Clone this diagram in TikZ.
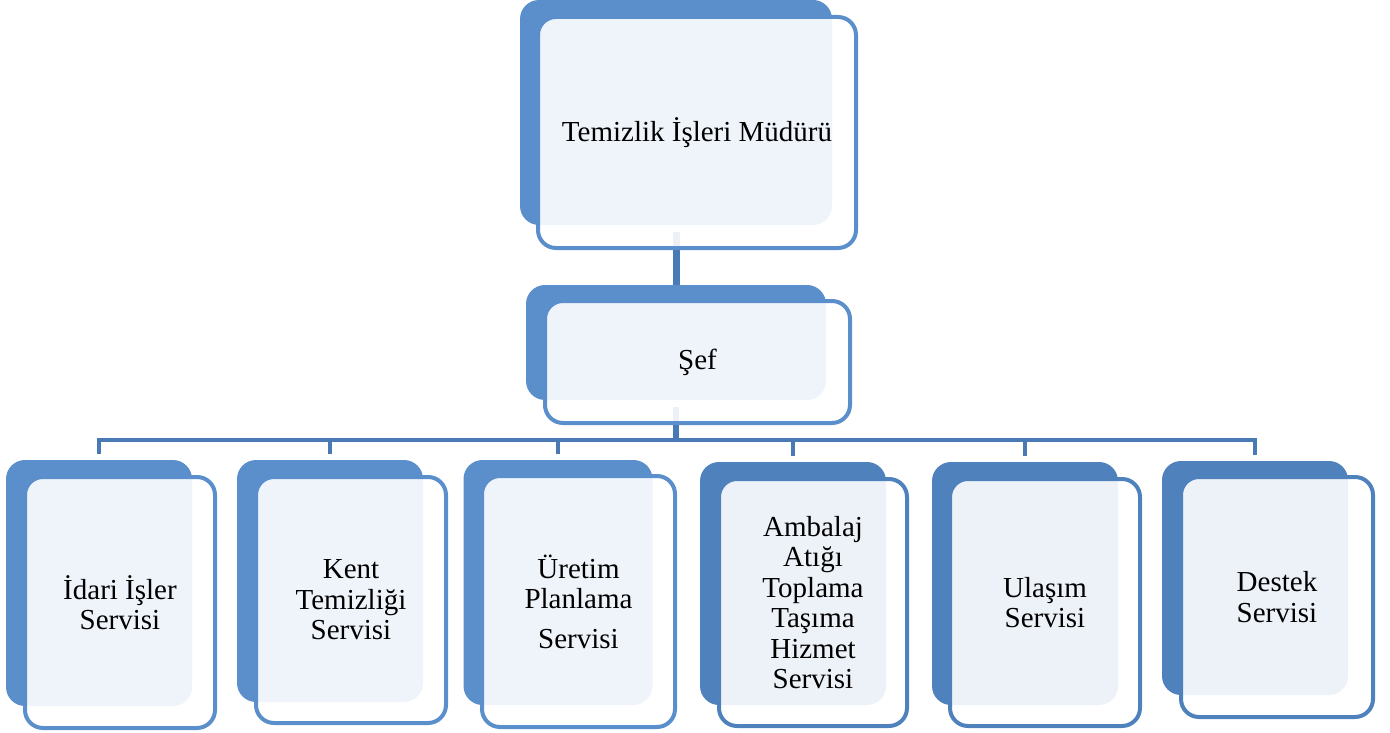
\documentclass[tikz,border=0pt]{standalone}
\usepackage{fontspec}
\setmainfont{Liberation Serif}
\usetikzlibrary{calc}

\definecolor{boxblue}{HTML}{5B8FCC}
\definecolor{boxdark}{HTML}{4F81BD}
\definecolor{linkblue}{HTML}{4A7AB6}

\begin{document}
\begin{tikzpicture}[x=1pt,y=-1pt,
  backbox/.style={fill=#1,rounded corners=19pt,inner sep=0pt,outer sep=0pt},
  frontbox/.style={draw=#1,line width=4pt,fill=white,fill opacity=0.9,text opacity=1,
    rounded corners=18pt,inner sep=0pt,align=center,
    font=\fontsize{29}{30.5}\selectfont},
  link/.style={draw=linkblue,line width=4.5pt}]

\useasboundingbox (0,0) rectangle (1390,733);

% back panels
\node[backbox=boxblue,minimum width=312,minimum height=225] (mud-b) at (676,112.5) {};
\node[backbox=boxblue,minimum width=300,minimum height=115] (sef-b) at (676,342.5) {};
\node[backbox=boxblue,minimum width=186,minimum height=246] (s1-b) at (99,583) {};
\node[backbox=boxblue,minimum width=186,minimum height=242] (s2-b) at (330,581) {};
\node[backbox=boxblue,minimum width=189,minimum height=245] (s3-b) at (558,582.5) {};
\node[backbox=boxdark,minimum width=186,minimum height=243] (s4-b) at (793,583.5) {};
\node[backbox=boxdark,minimum width=186,minimum height=243] (s5-b) at (1025,583.5) {};
\node[backbox=boxdark,minimum width=186,minimum height=234] (s6-b) at (1255,578) {};

% connectors
\draw[link,line width=7pt] ($(mud-b.south)+(0,7)$) -- (sef-b.north);
\draw[link,line width=6pt] ($(sef-b.south)+(0,7)$) -- ($(sef-b.south)+(0,40)$) coordinate (bus);
\draw[link] ($(s1-b.north)+(0,-6)$) |- (bus) -| ($(s6-b.north)+(0,-6)$);
\draw[link] (s2-b.north |- bus) -- ($(s2-b.north)+(0,-6)$);
\draw[link] (s3-b.north |- bus) -- ($(s3-b.north)+(0,-6)$);
\draw[link] (s4-b.north |- bus) -- ($(s4-b.north)+(0,-6)$);
\draw[link] (s5-b.north |- bus) -- ($(s5-b.north)+(0,-6)$);

% front panels
\node[frontbox=boxblue,minimum width=318,minimum height=231] (mud) at (697,132.5) {Temizlik İşleri Müdürü};
\node[frontbox=boxblue,minimum width=305,minimum height=122] (sef) at (697.5,362) {Şef};
\node[frontbox=boxblue,minimum width=190,minimum height=251] (s1) at (120,602.5) {İdari İşler\\Servisi};
\node[frontbox=boxblue,minimum width=190,minimum height=246] (s2) at (351,600) {Kent\\Temizliği\\Servisi};
\node[frontbox=boxblue,minimum width=193,minimum height=251] (s3) at (578.5,601.5) {Üretim\\Planlama\\[9pt]Servisi};
\node[frontbox=boxdark,minimum width=188,minimum height=247] (s4) at (813,602.5) {Ambalaj\\Atığı\\Toplama\\Taşıma\\Hizmet\\Servisi};
\node[frontbox=boxdark,minimum width=190,minimum height=247] (s5) at (1045,602.5) {Ulaşım\\Servisi};
\node[frontbox=boxdark,minimum width=192,minimum height=240] (s6) at (1277,597) {Destek\\Servisi};
\end{tikzpicture}
\end{document}
